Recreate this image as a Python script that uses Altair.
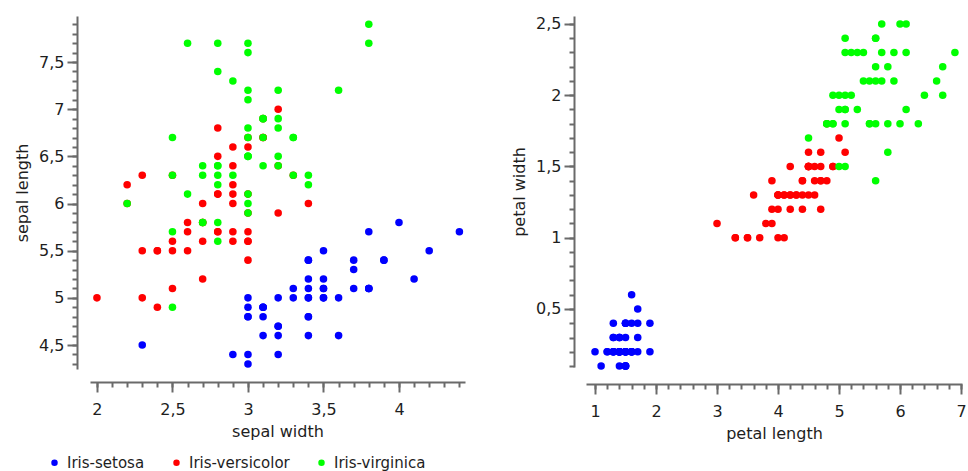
import altair as alt
import pandas as pd

species_names = ["Iris-setosa", "Iris-versicolor", "Iris-virginica"]
species_colors = ["#0000ff", "#ff0000", "#00ff00"]

sepal_length = [
    5.1, 4.9, 4.7, 4.6, 5.0, 5.4, 4.6, 5.0, 4.4, 4.9, 5.4, 4.8, 4.8, 4.3, 5.8, 5.7, 5.4, 5.1, 5.7, 5.1,
    5.4, 5.1, 4.6, 5.1, 4.8, 5.0, 5.0, 5.2, 5.2, 4.7, 4.8, 5.4, 5.2, 5.5, 4.9, 5.0, 5.5, 4.9, 4.4, 5.1,
    5.0, 4.5, 4.4, 5.0, 5.1, 4.8, 5.1, 4.6, 5.3, 5.0,
    7.0, 6.4, 6.9, 5.5, 6.5, 5.7, 6.3, 4.9, 6.6, 5.2, 5.0, 5.9, 6.0, 6.1, 5.6, 6.7, 5.6, 5.8, 6.2, 5.6,
    5.9, 6.1, 6.3, 6.1, 6.4, 6.6, 6.8, 6.7, 6.0, 5.7, 5.5, 5.5, 5.8, 6.0, 5.4, 6.0, 6.7, 6.3, 5.6, 5.5,
    5.5, 6.1, 5.8, 5.0, 5.6, 5.7, 5.7, 6.2, 5.1, 5.7,
    6.3, 5.8, 7.1, 6.3, 6.5, 7.6, 4.9, 7.3, 6.7, 7.2, 6.5, 6.4, 6.8, 5.7, 5.8, 6.4, 6.5, 7.7, 7.7, 6.0,
    6.9, 5.6, 7.7, 6.3, 6.7, 7.2, 6.2, 6.1, 6.4, 7.2, 7.4, 7.9, 6.4, 6.3, 6.1, 7.7, 6.3, 6.4, 6.0, 6.9,
    6.7, 6.9, 5.8, 6.8, 6.7, 6.7, 6.3, 6.5, 6.2, 5.9,
]
sepal_width = [
    3.5, 3.0, 3.2, 3.1, 3.6, 3.9, 3.4, 3.4, 2.9, 3.1, 3.7, 3.4, 3.0, 3.0, 4.0, 4.4, 3.9, 3.5, 3.8, 3.8,
    3.4, 3.7, 3.6, 3.3, 3.4, 3.0, 3.4, 3.5, 3.4, 3.2, 3.1, 3.4, 4.1, 4.2, 3.1, 3.2, 3.5, 3.1, 3.0, 3.4,
    3.5, 2.3, 3.2, 3.5, 3.8, 3.0, 3.8, 3.2, 3.7, 3.3,
    3.2, 3.2, 3.1, 2.3, 2.8, 2.8, 3.3, 2.4, 2.9, 2.7, 2.0, 3.0, 2.2, 2.9, 2.9, 3.1, 3.0, 2.7, 2.2, 2.5,
    3.2, 2.8, 2.5, 2.8, 2.9, 3.0, 2.8, 3.0, 2.9, 2.6, 2.4, 2.4, 2.7, 2.7, 3.0, 3.4, 3.1, 2.3, 3.0, 2.5,
    2.6, 3.0, 2.6, 2.3, 2.7, 3.0, 2.9, 2.9, 2.5, 2.8,
    3.3, 2.7, 3.0, 2.9, 3.0, 3.0, 2.5, 2.9, 2.5, 3.6, 3.2, 2.7, 3.0, 2.5, 2.8, 3.2, 3.0, 3.8, 2.6, 2.2,
    3.2, 2.8, 2.8, 2.7, 3.3, 3.2, 2.8, 3.0, 2.8, 3.0, 2.8, 3.8, 2.8, 2.8, 2.6, 3.0, 3.4, 3.1, 3.0, 3.1,
    3.1, 3.1, 2.7, 3.2, 3.3, 3.0, 2.5, 3.0, 3.4, 3.0,
]
petal_length = [
    1.4, 1.4, 1.3, 1.5, 1.4, 1.7, 1.4, 1.5, 1.4, 1.5, 1.5, 1.6, 1.4, 1.1, 1.2, 1.5, 1.3, 1.4, 1.7, 1.5,
    1.7, 1.5, 1.0, 1.7, 1.9, 1.6, 1.6, 1.5, 1.4, 1.6, 1.6, 1.5, 1.5, 1.4, 1.5, 1.2, 1.3, 1.5, 1.3, 1.5,
    1.3, 1.3, 1.3, 1.6, 1.9, 1.4, 1.6, 1.4, 1.5, 1.4,
    4.7, 4.5, 4.9, 4.0, 4.6, 4.5, 4.7, 3.3, 4.6, 3.9, 3.5, 4.2, 4.0, 4.7, 3.6, 4.4, 4.5, 4.1, 4.5, 3.9,
    4.8, 4.0, 4.9, 4.7, 4.3, 4.4, 4.8, 5.0, 4.5, 3.5, 3.8, 3.7, 3.9, 5.1, 4.5, 4.5, 4.7, 4.4, 4.1, 4.0,
    4.4, 4.6, 4.0, 3.3, 4.2, 4.2, 4.2, 4.3, 3.0, 4.1,
    6.0, 5.1, 5.9, 5.6, 5.8, 6.6, 4.5, 6.3, 5.8, 6.1, 5.1, 5.3, 5.5, 5.0, 5.1, 5.3, 5.5, 6.7, 6.9, 5.0,
    5.7, 4.9, 6.7, 4.9, 5.7, 6.0, 4.8, 4.9, 5.6, 5.8, 6.1, 6.4, 5.6, 5.1, 5.6, 6.1, 5.6, 5.5, 4.8, 5.4,
    5.6, 5.1, 5.1, 5.9, 5.7, 5.2, 5.0, 5.2, 5.4, 5.1,
]
petal_width = [
    0.2, 0.2, 0.2, 0.2, 0.2, 0.4, 0.3, 0.2, 0.2, 0.1, 0.2, 0.2, 0.1, 0.1, 0.2, 0.4, 0.4, 0.3, 0.3, 0.3,
    0.2, 0.4, 0.2, 0.5, 0.2, 0.2, 0.4, 0.2, 0.2, 0.2, 0.2, 0.4, 0.1, 0.2, 0.1, 0.2, 0.2, 0.1, 0.2, 0.2,
    0.3, 0.3, 0.2, 0.6, 0.4, 0.3, 0.2, 0.2, 0.2, 0.2,
    1.4, 1.5, 1.5, 1.3, 1.5, 1.3, 1.6, 1.0, 1.3, 1.4, 1.0, 1.5, 1.0, 1.4, 1.3, 1.4, 1.5, 1.0, 1.5, 1.1,
    1.8, 1.3, 1.5, 1.2, 1.3, 1.4, 1.4, 1.7, 1.5, 1.0, 1.1, 1.0, 1.2, 1.6, 1.5, 1.6, 1.5, 1.3, 1.3, 1.3,
    1.2, 1.4, 1.2, 1.0, 1.3, 1.2, 1.3, 1.3, 1.1, 1.3,
    2.5, 1.9, 2.1, 1.8, 2.2, 2.1, 1.7, 1.8, 1.8, 2.5, 2.0, 1.9, 2.1, 2.0, 2.4, 2.3, 1.8, 2.2, 2.3, 1.5,
    2.3, 2.0, 2.0, 1.8, 2.1, 1.8, 1.8, 1.8, 2.1, 1.6, 1.9, 2.0, 2.2, 1.5, 1.4, 2.3, 2.4, 1.8, 1.8, 2.1,
    2.4, 2.3, 1.9, 2.3, 2.5, 2.3, 1.9, 2.0, 2.3, 1.8,
]
species = [name for name in species_names for _ in range(50)]

df = pd.DataFrame({
    "sepal length": sepal_length,
    "sepal width": sepal_width,
    "petal length": petal_length,
    "petal width": petal_width,
    "species": species,
})

FONT = "DejaVu Sans"
AXIS_COLOR = "#6a6a6a"
TEXT_COLOR = "#1e1e1e"
LABEL_EXPR = "replace(format(datum.value, '.1~f'), '.', ',')"


def steps(start, stop, step):
    n = int(round((stop - start) / step))
    return [round(start + i * step, 3) for i in range(n + 1)]


def major_axis(title, values, offset, orient, title_padding, label_padding):
    return alt.Axis(
        title=title, values=values, offset=offset, orient=orient, grid=False,
        domainColor=AXIS_COLOR, domainWidth=2, tickColor=AXIS_COLOR, tickWidth=2, tickSize=10,
        labelExpr=LABEL_EXPR, labelFont=FONT, labelFontSize=16, labelColor=TEXT_COLOR,
        labelPadding=label_padding, labelOverlap=False, labelFlush=False,
        titleFont=FONT, titleFontSize=16, titleFontWeight="normal", titleColor=TEXT_COLOR,
        titlePadding=title_padding,
    )


def minor_axis(values, offset, orient):
    return alt.Axis(
        title=None, values=values, offset=offset, orient=orient, grid=False, domain=False,
        labels=False, tickColor=AXIS_COLOR, tickWidth=2, tickSize=5,
    )


legend = alt.Legend(
    orient="none", legendX=-43, legendY=439, direction="horizontal", title=None,
    symbolType="circle", symbolSize=42, symbolStrokeWidth=0, labelFont=FONT, labelFontSize=15,
    labelColor=TEXT_COLOR, columnPadding=24, labelOffset=5, padding=0,
)
color = alt.Color("species:N", scale=alt.Scale(domain=species_names, range=species_colors), legend=legend)


def panel(xf, yf, xdom, ydom, xmajor, xminor, ymajor, yminor, xoff, yoff, w, h):
    xs = alt.Scale(domain=xdom, zero=False, nice=False)
    ys = alt.Scale(domain=ydom, zero=False, nice=False)
    base = alt.Chart(df)
    minor = base.mark_circle(opacity=0).encode(
        x=alt.X(f"{xf}:Q", scale=xs, axis=minor_axis(xminor, xoff, "bottom")),
        y=alt.Y(f"{yf}:Q", scale=ys, axis=minor_axis(yminor, yoff, "left")),
    )
    pts = base.mark_circle(size=57, opacity=1).encode(
        x=alt.X(f"{xf}:Q", scale=xs, axis=major_axis(xf, xmajor, xoff, "bottom", 6, 9)),
        y=alt.Y(f"{yf}:Q", scale=ys, axis=major_axis(yf, ymajor, yoff, "left", 8, 3)),
        color=color,
    )
    return alt.layer(minor, pts).resolve_axis(x="independent", y="independent").properties(width=w, height=h)


left = panel(
    "sepal width", "sepal length", [1.954, 4.437], [4.246, 7.988],
    steps(2.0, 4.0, 0.5), steps(2.0, 4.4, 0.1), steps(4.5, 7.5, 0.5), steps(4.3, 7.9, 0.1),
    13, 13, 375, 353,
)
right = panel(
    "petal length", "petal width", [0.852, 7.016], [0.093, 2.556],
    steps(1.0, 7.0, 1.0), steps(1.0, 7.0, 0.2), steps(0.5, 2.5, 0.5), steps(0.1, 2.5, 0.1),
    17, 12, 376, 351,
)

chart = (
    alt.hconcat(left, right, spacing=46)
    .properties(padding={"left": 14, "top": 15, "right": 0, "bottom": 0}, background="white")
    .configure_view(stroke=None)
)

chart.save("out.html", embed_options={"renderer": "svg", "actions": False})
